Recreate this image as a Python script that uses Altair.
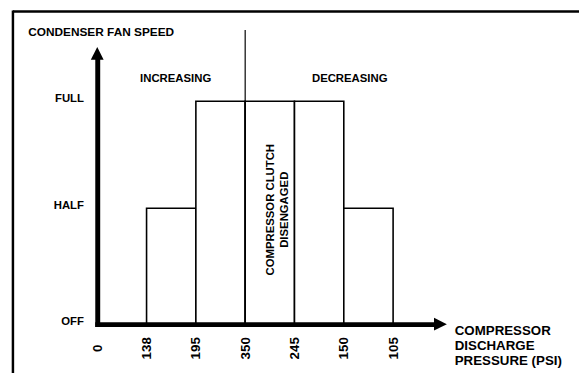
import altair as alt
import pandas as pd

# ---- data ----
tick_labels = ["0", "138", "195", "350", "245", "150", "105"]   # compressor discharge pressure (psi)
bar_levels = ["HALF", "FULL", "FULL", "FULL", "HALF"]           # fan speed between consecutive ticks
level_names = ["OFF", "HALF", "FULL"]
level_values = [0, 52, 100]                                      # relative fan speed
divider_tick = 3                                                  # "350" - clutch disengaged
divider_top = 132
x_title = ["COMPRESSOR", "DISCHARGE", "PRESSURE (PSI)"]
y_title = "CONDENSER FAN SPEED"
clutch_text = ["COMPRESSOR CLUTCH", "DISENGAGED"]

FONT = "Liberation Sans"
X_MAX = 6.83
Y_MAX = 118.6

level_map = dict(zip(level_names, level_values))
bars = pd.DataFrame({
    "start": list(range(1, len(bar_levels) + 1)),
    "end": list(range(2, len(bar_levels) + 2)),
    "speed": [level_map[l] for l in bar_levels],
    "base": [0] * len(bar_levels),
})

x_scale = alt.Scale(domain=[0, X_MAX], nice=False, zero=False)
y_scale = alt.Scale(domain=[0, Y_MAX], nice=False)

x_label_expr = "[" + ",".join("'%s'" % t for t in tick_labels) + "][round(datum.value)]"
y_label_expr = " : ".join(
    "datum.value == %s ? '%s'" % (v, n) for v, n in zip(level_values[:-1], level_names[:-1])
) + " : '%s'" % level_names[-1]

x_axis = alt.Axis(
    values=list(range(len(tick_labels))), labelExpr=x_label_expr,
    labelAngle=270, labelAlign="center", labelBaseline="middle", labelPadding=24,
    labelFont=FONT, labelFontSize=13.5, labelFontWeight="bold", labelColor="black",
    labelFlush=False, labelOverlap=False,
    ticks=False, grid=False, domain=True, domainColor="black", domainWidth=5, domainCap="square",
    title=x_title, titleX=362, titleY=11, titleAlign="left", titleBaseline="alphabetic",
    titleFont=FONT, titleFontSize=13.5, titleFontWeight="bold", titleColor="black", titleLineHeight=15,
    zindex=1,
)
y_axis = alt.Axis(
    values=level_values, labelExpr=y_label_expr,
    labelPadding=14, labelOffset=-3, labelBaseline="middle",
    labelFont=FONT, labelFontSize=11.5, labelFontWeight="bold", labelColor="black",
    labelFlush=False, labelOverlap=False,
    ticks=False, grid=False, domain=True, domainColor="black", domainWidth=5, domainCap="square",
    title=y_title, titleAngle=0, titleX=-70.5, titleY=-25, titleAlign="left", titleBaseline="alphabetic",
    titleFont=FONT, titleFontSize=12, titleFontWeight="bold", titleColor="black",
    zindex=1,
)

bar_layer = alt.Chart(bars).mark_rect(fill="white", stroke="black", strokeWidth=1.6).encode(
    x=alt.X("start:Q", scale=x_scale, axis=x_axis),
    x2="end:Q",
    y=alt.Y("speed:Q", scale=y_scale, axis=y_axis),
    y2="base:Q",
)

divider = alt.Chart(pd.DataFrame({"start": [divider_tick], "speed": [0], "top": [divider_top]})).mark_rule(
    color="black", strokeWidth=1.2
).encode(
    x=alt.X("start:Q", scale=x_scale, axis=x_axis),
    y=alt.Y("speed:Q", scale=y_scale, axis=y_axis),
    y2="top:Q",
)

# arrow heads at the ends of the two axes
up_head = alt.Chart(pd.DataFrame({"start": [0], "speed": [Y_MAX + 2.9]})).mark_point(
    shape="M0,-1L1,1L-1,1Z", size=169, filled=True, color="black", opacity=1, strokeWidth=0
).encode(x=alt.X("start:Q", scale=x_scale, axis=x_axis), y=alt.Y("speed:Q", scale=y_scale, axis=y_axis))

right_head = alt.Chart(pd.DataFrame({"start": [X_MAX + 0.13], "speed": [0]})).mark_point(
    shape="M1,0L-1,-1L-1,1Z", size=169, filled=True, color="black", opacity=1, strokeWidth=0
).encode(x=alt.X("start:Q", scale=x_scale, axis=x_axis), y=alt.Y("speed:Q", scale=y_scale, axis=y_axis))

dummy = pd.DataFrame({"a": [0]})
txt_style = dict(font=FONT, fontWeight="bold", color="black")

increasing = alt.Chart(dummy).mark_text(text="INCREASING", fontSize=11.5, align="center",
                                        baseline="alphabetic", **txt_style).encode(
    x=alt.value(79.5), y=alt.value(22))
decreasing = alt.Chart(dummy).mark_text(text="DECREASING", fontSize=11.5, align="center",
                                        baseline="alphabetic", **txt_style).encode(
    x=alt.value(256), y=alt.value(22))
clutch = alt.Chart(dummy).mark_text(text=clutch_text, fontSize=11.5, angle=270, lineHeight=14,
                                    align="center", baseline="middle", **txt_style).encode(
    x=alt.value(176.5), y=alt.value(152))

# frame (top and left border of the figure)
frame_top = alt.Chart(dummy).mark_rule(color="black", strokeWidth=2.5).encode(
    x=alt.value(-85.5), x2=alt.value(495), y=alt.value(-49))
frame_left = alt.Chart(dummy).mark_rule(color="black", strokeWidth=2.5).encode(
    x=alt.value(-85.5), y=alt.value(-50), y2=alt.value(320))

chart = alt.layer(
    bar_layer, divider, up_head, right_head, increasing, decreasing, clutch, frame_top, frame_left
).properties(
    width=341.5, height=268,
    padding={"left": 90.5, "top": 50, "right": 147, "bottom": 47},
    autosize=alt.AutoSizeParams(type="none"),
    background="white",
).configure_view(stroke=None)

chart.save("out.html", embed_options={"renderer": "svg", "actions": False})
